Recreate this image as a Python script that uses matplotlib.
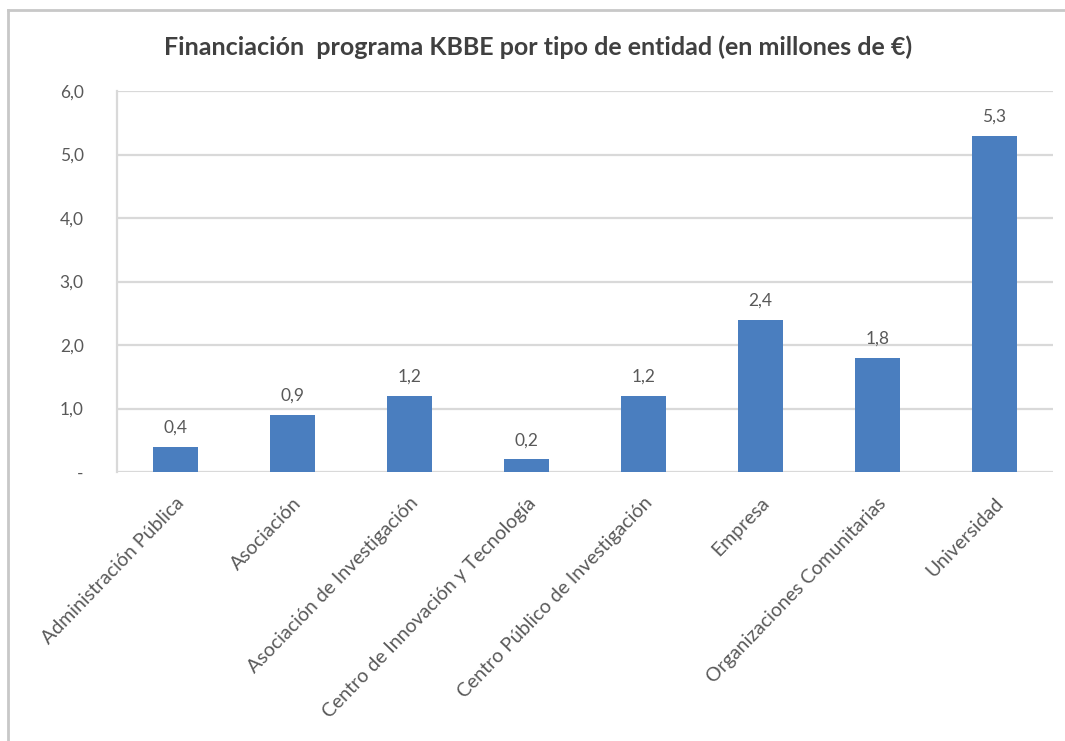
import matplotlib.pyplot as plt
from matplotlib.lines import Line2D

categorias = ['Administración Pública', 'Asociación', 'Asociación de Investigación',
              'Centro de Innovación y Tecnología', 'Centro Público de Investigación',
              'Empresa', 'Organizaciones Comunitarias', 'Universidad']
financiacion = [0.4, 0.9, 1.2, 0.2, 1.2, 2.4, 1.8, 5.3]
yticks = [0, 1, 2, 3, 4, 5, 6]
ytick_labels = ['-', '1,0', '2,0', '3,0', '4,0', '5,0', '6,0']

plt.rcParams['font.family'] = ['Lato', 'DejaVu Sans']
gris = '#595959'

fig = plt.figure(figsize=(10.65, 7.41), dpi=100)
ax = fig.add_axes([0.1099, 0.363, 0.8788, 0.514])

x = range(len(categorias))
ax.bar(x, financiacion, width=0.39, color='#4a7ebf', zorder=3)
for xi, v in zip(x, financiacion):
    ax.text(xi, v + 0.17, f'{v:.1f}'.replace('.', ','), ha='center', va='bottom',
            fontsize=12.5, color=gris)

ax.set_xlim(-0.5, len(categorias) - 0.5)
ax.set_ylim(0, 6)
ax.set_yticks(yticks)
ax.set_yticklabels(ytick_labels, fontsize=12.5, color=gris)
ax.set_xticks(list(x))
ax.set_xticklabels(categorias, rotation=46, ha='right', va='top',
                   rotation_mode='anchor', fontsize=14, color=gris)
ax.tick_params(axis='y', length=0, pad=24)
ax.tick_params(axis='x', length=0, pad=16)
ax.grid(axis='y', color='#d9d9d9', linewidth=1.6, zorder=0)
for s in ['top', 'right', 'bottom']:
    ax.spines[s].set_visible(False)
ax.spines['left'].set_color('#d9d9d9')
ax.spines['left'].set_linewidth(1.6)

fig.text(0.505, 0.936, 'Financiación  programa KBBE por tipo de entidad (en millones de €)',
         ha='center', va='center', fontsize=18, fontweight='bold', color='#404040')

# marco exterior del gráfico
fig.add_artist(Line2D([8 / 1065, 8 / 1065], [0, 1 - 10 / 741], color='#c8c8c8', lw=2))
fig.add_artist(Line2D([8 / 1065, 1], [1 - 10 / 741, 1 - 10 / 741], color='#c8c8c8', lw=2))

fig.savefig('out.png', dpi=100)
